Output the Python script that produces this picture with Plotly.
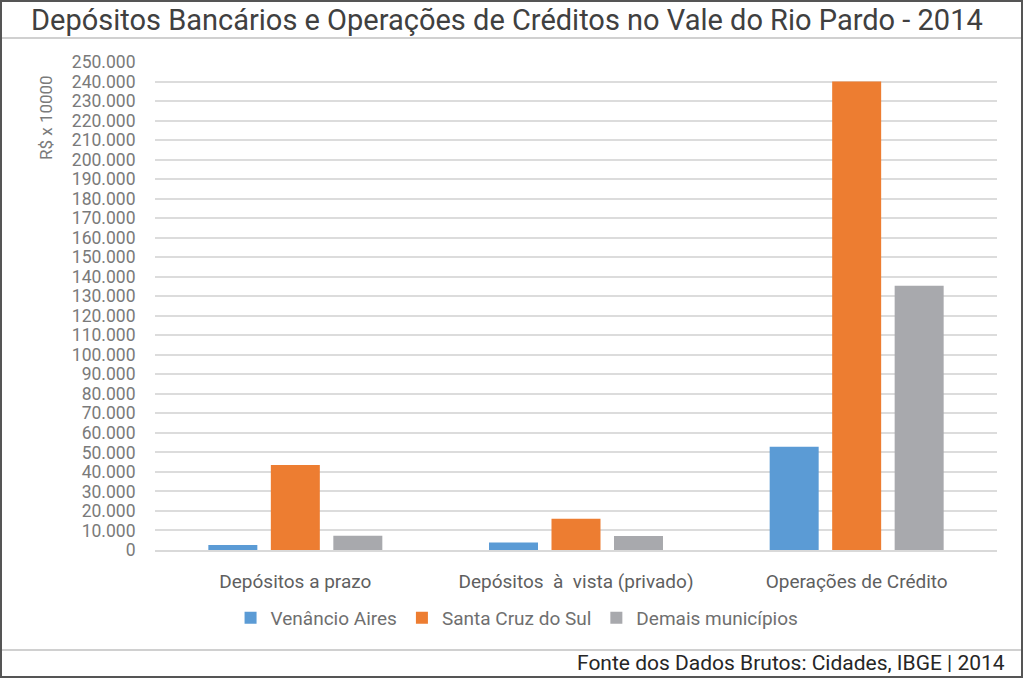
import plotly.graph_objects as go

categories = ["Depósitos a prazo", "Depósitos  à  vista (privado)", "Operações de Crédito"]
series_names = ["Venâncio Aires", "Santa Cruz do Sul", "Demais municípios"]
venancio = [2600, 3900, 52900]
santa_cruz = [43500, 16000, 240000]
demais = [7300, 7200, 135400]
colors = ["#5B9BD5", "#ED7D31", "#A8A9AD"]
y_ticks = list(range(0, 250001, 10000))
y_tick_labels = ["0"] + [f"{v // 1000}.000" for v in y_ticks[1:]]

W, H = 1024, 679
L, R, T, B = 155, 27, 62, 129
pw, ph = W - L - R, H - T - B

def px(x):
    return (x - L) / pw

def py(y):
    return (H - B - y) / ph

fig = go.Figure()
for name, vals, c in zip(series_names, [venancio, santa_cruz, demais], colors):
    fig.add_trace(go.Bar(x=categories, y=vals, name=name, marker=dict(color=c, line=dict(width=0))))

font_family = "Roboto, Arial, sans-serif"

fig.update_layout(
    width=W, height=H,
    margin=dict(l=L, r=R, t=T, b=B, autoexpand=False),
    paper_bgcolor="white", plot_bgcolor="white",
    barmode="group", bargap=0.332, bargroupgap=0.216,
    showlegend=True,
    legend=dict(orientation="h", x=0.43, y=py(618), xanchor="center", yanchor="middle",
                font=dict(family=font_family, size=19, color="#6f6f6f"),
                itemwidth=30, traceorder="normal"),
    xaxis=dict(tickfont=dict(family=font_family, size=19, color="#5f5f5f"),
               ticks="outside", ticklen=13, tickcolor="rgba(0,0,0,0)",
               showline=True, linecolor="#D9D9D9", linewidth=1.5, showgrid=False),
    yaxis=dict(range=[0, 250000], tickvals=y_ticks, ticktext=y_tick_labels,
               tickfont=dict(family=font_family, size=17.5, color="#7a7a7a"),
               ticks="outside", ticklen=15, tickcolor="rgba(0,0,0,0)",
               showgrid=True, gridcolor="#DCDCDC", gridwidth=1.5, zeroline=False),
    font=dict(family=font_family),
)

fig.add_annotation(text="Depósitos Bancários e Operações de Créditos no Vale do Rio Pardo - 2014",
                   xref="paper", yref="paper", x=px(507), y=py(20), xanchor="center", yanchor="middle",
                   showarrow=False, font=dict(family="Roboto, Liberation Sans, sans-serif", size=29, color="#404040"))
fig.add_annotation(text="R$ x 10000", xref="paper", yref="paper", x=px(46), y=py(118),
                   xanchor="center", yanchor="middle", textangle=-90, showarrow=False,
                   font=dict(family=font_family, size=17, color="#7a7a7a"))
fig.add_annotation(text="Fonte dos Dados Brutos: Cidades, IBGE | 2014", xref="paper", yref="paper",
                   x=px(1007), y=py(663), xanchor="right", yanchor="middle", showarrow=False,
                   font=dict(family=font_family, size=21, color="#262626"))

fig.add_shape(type="rect", xref="paper", yref="paper", x0=px(1), x1=px(1022), y0=py(1), y1=py(677),
              line=dict(color="#555555", width=2))
fig.add_shape(type="line", xref="paper", yref="paper", x0=px(2), x1=px(1021), y0=py(38), y1=py(38),
              line=dict(color="#D0D0D0", width=2))
fig.add_shape(type="line", xref="paper", yref="paper", x0=px(2), x1=px(1021), y0=py(650), y1=py(650),
              line=dict(color="#D0D0D0", width=2))

fig.write_html("out.html")
